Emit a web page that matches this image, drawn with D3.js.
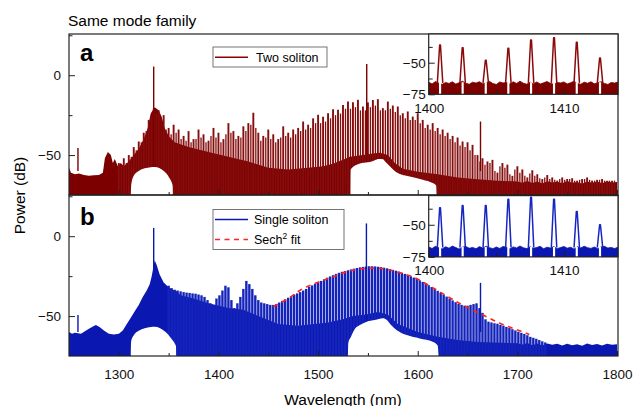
<!DOCTYPE html>
<html>
<head>
<meta charset="utf-8">
<script src="https://cdn.jsdelivr.net/npm/d3@7"></script>
<style>
  body { margin: 0; background: #fff; }
  svg { display: block; font-family: "Liberation Sans", Arial, Helvetica, sans-serif; }
  .axis path { display: none; }
  .axis line { stroke: #222; stroke-width: 1; }
  .axis text { font-size: 13.5px; fill: #111; }
</style>
</head>
<body>
<svg id="chart" width="636" height="406"></svg>
<script>
// ---- data (wavelength in nm, power in dB) ----

// solid noise pedestal under the comb, panel a (two soliton)
const pedA = [[1250,-58],[1252,-61],[1256,-62],[1260,-61.5],[1265,-62.5],[1270,-63],[1275,-62.6],[1280,-62.5],
  [1284,-61],[1286,-52],[1289,-48],[1292,-50],[1294,-55],[1296,-52.5],[1299,-57],[1302,-55],[1305,-57],
  [1310,-54],[1315,-50],[1320,-46],[1325,-40],[1329,-33],[1332,-24],[1336,-20],[1340,-22],[1343,-26],
  [1346,-33],[1350,-38],[1356,-42],[1370,-45],[1390,-48],[1410,-51],[1430,-54],[1450,-58],[1470,-59],
  [1490,-58],[1505,-57],[1515,-55.5],[1525,-53],[1532,-51],[1545,-50],[1555,-49],[1562,-48.5],[1570,-50],
  [1577,-55],[1585,-58.5],[1600,-60.5],[1620,-62],[1640,-64],[1660,-65.2],[1680,-66],[1700,-66.5],
  [1705,-67.3],[1710,-66.2],[1715,-67.5],[1720,-66.6],[1725,-67.8],[1730,-66.4],[1735,-67.2],[1740,-66.7],
  [1745,-67.6],[1750,-66.3],[1755,-67.4],[1760,-66.8],[1765,-67.9],[1770,-66.5],[1775,-67.3],[1780,-66.6],
  [1785,-67.7],[1790,-66.4],[1795,-67.2],[1800,-66.8]];

// comb line tops, panel a: main lines every 5 nm from 1300 nm
const combAStart = 1300, combAStep = 5;
const combATop = [
  -55,-52,-50,-45,-41.5,-36,-28,-21,-22,-25,
  -33,-31,-34,-38,-35,-40,-34,-37,-41,-33,
  -36,-40,-30,-35,-38,-32,-30,-23.5,-36,-38,
  -34,-37,-40,-32,-36,-34,-33,-29,-31,-27,
  -24.8,-26,-23.8,-21.3,-21.7,-18.6,-16.5,-17,-15.4,-19.6,
  -17,-15.5,-15,-20.6,-16.5,-19,-19.6,-23.8,-22.7,-25.9,
  -23.8,-28,-31,-30,-33,-34,-36,-38,-39,-41.5,
  -42,-43.6,-50,-52,-54,-53,-61,-55,-56,-63,
  -57,-59,-64,-59.5,-62,-65,-62.5,-64,-66,-64,
  -65,-64.5,-66,-65,-64,-66,-65.5,-65,-66,-66];
// shorter lines sitting between them, every 5 nm from 1302.5 nm
const combAMinorStart = 1302.5;
const combAMinorTop = [
  -57,-55,-51,-47,-42,-35,-26,-24,-27,-34,
  -37,-36,-40,-41,-42,-40,-39,-42,-38,-39,
  -42,-37,-36,-40,-39,-35,-31,-33,-41,-39,
  -40,-42,-39,-38,-39,-37,-35,-34,-33,-30,
  -30,-29,-27,-25,-24,-21,-21,-20,-22,-22,
  -20,-19,-22,-22,-21,-23,-25,-27,-28,-28,
  -30,-33,-34,-35,-37,-38,-40,-42,-44,-45,
  -47,-50,-54,-56,-55,-60,-57,-58,-62,-59,
  -61,-63,-61.5,-63,-64.5,-64,-65,-65.5,-65,-65.5,
  -65,-66,-65.5,-65,-65.5,-66,-65.5,-66,-66,-66];

const spikesA = [[1259,-45.6],[1335,5.4],[1548.8,7],[1663,-29]];

// white filter notches below the trace, panel a
const domeA1 = [[1312,-76],[1312.5,-68.5],[1315,-63],[1320,-60],[1326,-58.3],[1332,-57.6],[1336,-57.5],
  [1341,-58.2],[1346,-60.5],[1350,-63.5],[1353,-67],[1354,-69],[1354.3,-76]];
const domeA2 = [[1532.5,-76],[1532.7,-59.2],[1535,-57.5],[1540,-55.8],[1544,-55],[1552,-54.4],[1557,-53.2],
  [1561,-52.5],[1565,-52.6],[1568,-54.5],[1572,-57],[1579,-60.9],[1585,-62.5],[1592,-63.4],[1605,-65.4],
  [1615,-67.5],[1618.5,-69],[1619,-76]];

// panel b (single soliton)
const pedB = [[1250,-60],[1253,-61],[1256,-60.5],[1262,-61],[1266,-59.5],[1270,-58],[1274,-56.5],[1277,-55.6],
  [1281,-57],[1285,-59],[1290,-61],[1295,-61.5],[1300,-61],[1304,-59],[1308,-55],[1312,-51],[1316,-47],
  [1320,-43],[1324,-38],[1328,-34],[1331,-30],[1333,-25],[1336,-15],[1338,-18],[1341,-24],[1345,-29],
  [1350,-32],[1354,-33.5],[1357,-34],[1362,-37],[1375,-39],[1390,-42],[1410,-45],[1425,-46],[1440,-50],
  [1460,-55],[1480,-56],[1510,-54],[1525,-52],[1535,-50],[1548,-49],[1560,-47.5],[1570,-49],[1580,-55],
  [1600,-60],[1620,-63],[1640,-65],[1660,-66.2],[1700,-67],[1705,-67.8],[1710,-66.9],[1715,-68.2],
  [1720,-67.2],[1725,-68.4],[1730,-67.1],[1735,-68],[1740,-67.4],[1745,-68.5],[1750,-67.3],[1755,-68.2],
  [1760,-67.6],[1765,-68.6],[1770,-67.2],[1775,-68.1],[1780,-67.5],[1785,-68.4],[1790,-67.3],[1795,-68],
  [1800,-67.6]];

// comb line tops, panel b, one every 3 nm from 1350 nm
const combBStart = 1350, combBStep = 3;
const combBTop = [
  -31,-32.5,-33.5,-34,-34.5,-35,-35.3,-35.5,-35.8,-36,
  -36.5,-37,-38,-40,-42,-43,-39,-37,-34,-31,
  -32,-40,-45,-42,-38,-33,-28,-30,-33,-37,
  -40,-41.5,-42,-42.5,-43,-43,-42.5,-41.5,-40.5,-39.5,
  -38.5,-37.5,-36.5,-35.8,-35,-34,-33,-31.8,-30.8,-29.8,
  -29,-28,-27,-26,-25.2,-24.4,-23.6,-22.9,-22.3,-21.8,
  -21.3,-20.8,-20.3,-19.9,-19.5,-19.2,-19,-18.8,-18.8,-18.9,
  -19.1,-19.4,-19.7,-20.1,-20.6,-21.1,-21.6,-22.2,-22.9,-23.6,
  -24.3,-25.1,-25.9,-26.7,-27.6,-28.6,-29.6,-30.7,-31.8,-33,
  -34.2,-35.4,-36.6,-37.8,-39,-40.2,-41.3,-42.4,-43,-43.5,
  -43.5,-43,-42.5,-42,-45,-48,-52,-53.5,-54,-54.5,
  -54.8,-55.5,-56,-56.8,-57.5,-58.2,-59,-59.8,-60.5,-61.2,
  -62,-63,-63.6,-64.2,-65,-65.8,-66.5];

const spikesB = [[1259,-49.4],[1335,5.2],[1548.5,8],[1663,-29.2]];

const domeB1 = [[1312,-76],[1312.3,-66],[1315,-62],[1320,-59.2],[1326,-57.6],[1332,-56.8],[1336,-56.7],
  [1341,-57.5],[1347,-60],[1352,-63.5],[1356,-67],[1357.4,-69],[1357.6,-76]];
const domeB2 = [[1530,-76],[1530.3,-67],[1533,-63],[1537,-58],[1542,-55.6],[1548.8,-53.5],[1557,-52.5],
  [1565,-51.4],[1569,-52.5],[1573,-55.5],[1579,-58.8],[1589,-61.9],[1602,-64],[1615,-66],[1620,-68.5],
  [1621,-76]];

// sech^2 fit (dashed red)
const fitB = [[1455,-44],[1470,-39],[1482,-33.8],[1500,-28.8],[1515,-25.4],[1530,-22],[1545,-20.3],
  [1555,-20],[1565,-20.3],[1580,-22.5],[1595,-25.5],[1615,-32.2],[1626,-36.3],[1644,-42.7],
  [1664,-48.9],[1683,-54.6],[1694,-57.3],[1705,-59.8],[1712,-61.5]];

// insets: 1400–1414 nm zoom
const insetPeakNm = [1400.84,1402.51,1404.22,1405.89,1407.57,1409.27,1410.95,1412.67];
const insetTopA = [-36,-38.1,-48.1,-38.6,-32.1,-30.2,-33.9,-46.3];
const insetTopB = [-36.8,-35,-35,-30.2,-28.6,-30.2,-39.6,-50];
// noise floor, one value every 0.25 nm from 1400 nm
const insetFloorA = [-65.5,-66.8,-64.9,-66.2,-67.1,-65.6,-66.4,-65.1,-66.9,-65.8,
  -64.7,-66.3,-67,-65.4,-66.1,-65,-66.7,-65.9,-64.8,-66.5,
  -67.2,-65.3,-66,-65.7,-66.8,-65.1,-66.4,-64.6,-66.2,-67,
  -65.5,-66.6,-65.2,-66.9,-65.9,-64.9,-66.3,-67.1,-65.6,-66,
  -65.2,-66.8,-65.8,-64.7,-66.5,-67,-65.4,-66.2,-65.1,-66.7,
  -65.9,-65,-66.4,-67.2,-65.6,-66.1,-65.3];
const insetFloorB = [-67.2,-68.5,-66.8,-67.9,-68.8,-67.1,-68.2,-66.6,-67.7,-68.9,
  -67.4,-66.9,-68.3,-67.6,-68.7,-67,-68.1,-66.7,-67.8,-68.6,
  -67.3,-68.4,-66.9,-67.5,-68.8,-67.2,-68,-66.5,-67.9,-68.5,
  -67.1,-68.3,-67.6,-66.8,-68.7,-67.4,-68.1,-67,-68.6,-67.7,
  -66.9,-68.2,-67.5,-68.9,-67.1,-68,-66.7,-67.8,-68.4,-67.3,
  -68.6,-67.2,-66.8,-68.1,-67.6,-68.5,-67.4];

const xTicks = [1300,1400,1500,1600,1700,1800];
const xMinor = [1350,1450,1550,1650,1750];

// ---- drawing ----
const svg = d3.select('#chart');
const left = 69, right = 618;
const x = d3.scaleLinear().domain([1250, 1800]).range([left, 617]);

const panels = [
  { top: 34, bottom: 195, fill: '#7c0000', stroke: '#860d0d', lw: 1.9, lwMinor: 1.3,
    ped: pedA, comb: combATop, cStart: combAStart, cStep: combAStep,
    minor: combAMinorTop, mStart: combAMinorStart,
    spikes: spikesA, domes: [domeA1, domeA2], label: 'a', labelY: 61 },
  { top: 195, bottom: 356, fill: '#0a17b0', stroke: '#1424bb', lw: 2.4, lwMinor: 0,
    ped: pedB, comb: combBTop, cStart: combBStart, cStep: combBStep,
    minor: [], mStart: 0,
    spikes: spikesB, domes: [domeB1, domeB2], label: 'b', labelY: 225 }
];

panels.forEach((p, k) => {
  const y = d3.scaleLinear().domain([-75, 25.8]).range([p.bottom, p.top]);

  svg.append('clipPath').attr('id', 'clip' + k)
    .append('rect')
    .attr('x', left).attr('y', p.top)
    .attr('width', right - left).attr('height', p.bottom - p.top);

  const g = svg.append('g').attr('clip-path', `url(#clip${k})`);

  // pedestal
  g.append('path')
    .datum(p.ped)
    .attr('fill', p.fill)
    .attr('d', d3.area().x(d => x(d[0])).y0(y(-76)).y1(d => y(d[1])));

  // comb lines
  const lines = p.comb.map((v, i) => [p.cStart + i * p.cStep, v, p.lw])
    .concat(p.minor.map((v, i) => [p.mStart + i * p.cStep, v, p.lwMinor]));
  g.selectAll('.comb')
    .data(lines)
    .join('line')
    .attr('class', 'comb')
    .attr('x1', d => x(d[0])).attr('x2', d => x(d[0]))
    .attr('y1', y(-76)).attr('y2', d => y(d[1]))
    .attr('stroke', p.stroke)
    .attr('stroke-width', d => d[2]);

  // narrow spikes (pump etc.)
  g.selectAll('.spike')
    .data(p.spikes)
    .join('line')
    .attr('class', 'spike')
    .attr('x1', d => x(d[0])).attr('x2', d => x(d[0]))
    .attr('y1', y(-60)).attr('y2', d => y(d[1]))
    .attr('stroke', p.fill)
    .attr('stroke-width', 1.4);

  // white notches
  g.selectAll('.dome')
    .data(p.domes)
    .join('path')
    .attr('class', 'dome')
    .attr('fill', '#fff')
    .attr('d', d3.line().x(d => x(d[0])).y(d => y(d[1])).curve(d3.curveMonotoneX));

  if (k === 1) {
    g.append('path')
      .datum(fitB)
      .attr('fill', 'none')
      .attr('stroke', '#ff2222')
      .attr('stroke-width', 1.6)
      .attr('stroke-dasharray', '5,4.5')
      .attr('d', d3.line().x(d => x(d[0])).y(d => y(d[1])).curve(d3.curveMonotoneX));
  }

  // frame
  svg.append('rect')
    .attr('x', left).attr('y', p.top)
    .attr('width', right - left).attr('height', p.bottom - p.top)
    .attr('fill', 'none').attr('stroke', '#222').attr('stroke-width', 1.2);

  // y axis
  svg.append('g').attr('class', 'axis')
    .attr('transform', `translate(${left},0)`)
    .call(d3.axisLeft(y).tickValues([-50, 0]).tickSize(-6).tickPadding(8).tickFormat(d3.format('d')));
  svg.append('g').attr('class', 'axis')
    .attr('transform', `translate(${left},0)`)
    .call(d3.axisLeft(y).tickValues([-25, 25]).tickSize(-3.5).tickFormat(''));

  // x axis ticks along bottom of each panel
  svg.append('g').attr('class', 'axis')
    .attr('transform', `translate(0,${p.bottom})`)
    .call(d3.axisBottom(x).tickValues(xTicks).tickSize(-5).tickPadding(13.5)
      .tickFormat(k === 1 ? d3.format('d') : ''));
  svg.append('g').attr('class', 'axis')
    .attr('transform', `translate(0,${p.bottom})`)
    .call(d3.axisBottom(x).tickValues(xMinor).tickSize(-3).tickFormat(''));

  // panel letter
  svg.append('text')
    .attr('x', 80).attr('y', p.labelY)
    .attr('font-size', 24).attr('font-weight', 'bold')
    .text(p.label);
});

// ---- insets ----
const insets = [
  { top: 34, bottom: 94.3, tops: insetTopA, floor: insetFloorA, fill: '#7c0000', stroke: '#8a0a0a', pad: 9 },
  { top: 195.6, bottom: 256.9, tops: insetTopB, floor: insetFloorB, fill: '#0a17b0', stroke: '#1626c0', pad: 8.5 }
];
const xi = d3.scaleLinear().domain([1400, 1414]).range([428.7, right]);

insets.forEach((s, k) => {
  const yi = d3.scaleLinear().domain([-75, -27.3]).range([s.bottom, s.top]);
  svg.append('rect')
    .attr('x', 428.7).attr('y', s.top)
    .attr('width', right - 428.7).attr('height', s.bottom - s.top)
    .attr('fill', '#fff');

  svg.append('clipPath').attr('id', 'iclip' + k)
    .append('rect')
    .attr('x', 428.7).attr('y', s.top)
    .attr('width', right - 428.7).attr('height', s.bottom - s.top);
  const g = svg.append('g').attr('clip-path', `url(#iclip${k})`);

  const floor = s.floor.map((v, i) => [1400 + i * 0.25, v]);
  g.append('path')
    .datum(floor)
    .attr('fill', s.fill)
    .attr('stroke', s.fill)
    .attr('stroke-width', 0.8)
    .attr('d', d3.area().x(d => xi(d[0])).y0(yi(-76)).y1(d => yi(d[1])));

  const peaks = insetPeakNm.map((nm, i) => [nm, s.tops[i]]);
  const base = d3.mean(s.floor);

  // white slit under each peak
  g.selectAll('.slit')
    .data(peaks)
    .join('rect')
    .attr('x', d => xi(d[0] - 0.08))
    .attr('width', xi(1400.16) - xi(1400))
    .attr('y', yi(base + 0.5))
    .attr('height', yi(-76) - yi(base + 0.5))
    .attr('fill', '#fff');

  g.selectAll('.pk')
    .data(peaks)
    .join('path')
    .attr('fill', 'none')
    .attr('stroke', s.stroke)
    .attr('stroke-width', 1.5)
    .attr('stroke-linejoin', 'round')
    .attr('d', d => d3.line().x(q => xi(q[0])).y(q => yi(q[1]))([
      [d[0] - 0.2, base], [d[0] - 0.03, d[1]], [d[0] + 0.03, d[1]], [d[0] + 0.2, base]
    ]));

  svg.append('rect')
    .attr('x', 428.7).attr('y', s.top)
    .attr('width', right - 428.7).attr('height', s.bottom - s.top)
    .attr('fill', 'none').attr('stroke', '#222').attr('stroke-width', 1.2);

  svg.append('g').attr('class', 'axis')
    .attr('transform', 'translate(428.7,0)')
    .call(d3.axisLeft(yi).tickValues([-75, -50]).tickSize(-6).tickPadding(3).tickFormat(d3.format('d')));
  svg.append('g').attr('class', 'axis')
    .attr('transform', 'translate(428.7,0)')
    .call(d3.axisLeft(yi).tickValues([-62.5, -37.5]).tickSize(-4).tickFormat(''));
  svg.append('g').attr('class', 'axis')
    .attr('transform', `translate(0,${s.bottom})`)
    .call(d3.axisBottom(xi).tickValues([1400, 1410]).tickSize(-6).tickPadding(s.pad).tickFormat(d3.format('d')));
  svg.append('g').attr('class', 'axis')
    .attr('transform', `translate(0,${s.bottom})`)
    .call(d3.axisBottom(xi).tickValues([1405]).tickSize(-4).tickFormat(''));
});

// ---- legends ----
const legA = svg.append('g');
legA.append('rect').attr('x', 213).attr('y', 47).attr('width', 114).attr('height', 20)
  .attr('fill', '#fff').attr('stroke', '#666').attr('stroke-width', 0.9);
legA.append('line').attr('x1', 215).attr('x2', 248).attr('y1', 57.3).attr('y2', 57.3)
  .attr('stroke', '#8b0000').attr('stroke-width', 1.5);
legA.append('text').attr('x', 256).attr('y', 61.6).attr('font-size', 12.5).text('Two soliton');

const legB = svg.append('g');
legB.append('rect').attr('x', 213).attr('y', 209.5).attr('width', 131).attr('height', 40)
  .attr('fill', '#fff').attr('stroke', '#666').attr('stroke-width', 0.9);
legB.append('line').attr('x1', 215).attr('x2', 248).attr('y1', 219.4).attr('y2', 219.4)
  .attr('stroke', '#0a17b0').attr('stroke-width', 1.5);
legB.append('text').attr('x', 254).attr('y', 223.8).attr('font-size', 12.5).text('Single soliton');
legB.append('line').attr('x1', 215).attr('x2', 248).attr('y1', 239.4).attr('y2', 239.4)
  .attr('stroke', '#ff2222').attr('stroke-width', 1.5).attr('stroke-dasharray', '5,4.5');
const sech = legB.append('text').attr('x', 254).attr('y', 243.8).attr('font-size', 12.5);
sech.append('tspan').text('Sech');
sech.append('tspan').attr('dy', -5).attr('font-size', 8.5).text('2');
sech.append('tspan').attr('dy', 5).text(' fit');

// ---- titles ----
svg.append('text').attr('x', 68).attr('y', 25.5).attr('font-size', 15.5).text('Same mode family');
svg.append('text')
  .attr('transform', 'translate(25,195.5) rotate(-90)')
  .attr('text-anchor', 'middle').attr('font-size', 15.5)
  .text('Power (dB)');
svg.append('text').attr('x', 343).attr('y', 404.5).attr('text-anchor', 'middle')
  .attr('font-size', 15.5).text('Wavelength (nm)');
</script>
</body>
</html>
